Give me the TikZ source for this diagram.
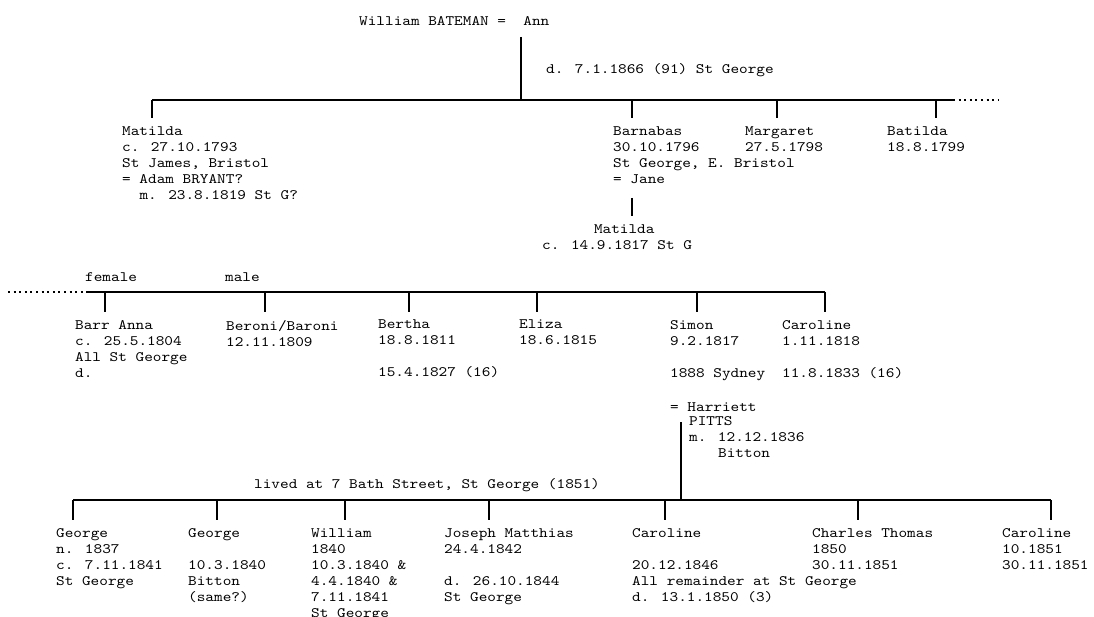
\documentclass[tikz,border=0pt]{standalone}
\usepackage{fontspec}
\newfontfamily\treefont[FakeStretch=1.143]{lmmono10-regular.otf}

\begin{document}
\begin{tikzpicture}[x=1pt,y=-1pt,line width=2.4pt,
  person/.style={anchor=north west,inner sep=0pt,align=left,
    font=\treefont\fontsize{14.4}{16}\selectfont,
    execute at begin node={\lineskiplimit=-100pt\strut}},
  note/.style={person,anchor=base west},
  dots/.style={line width=2pt,dash pattern=on 2pt off 3.6pt}]
  \useasboundingbox (0,0) rectangle (1094,617);

  \node[note] (parents) at (358,25.5) {William BATEMAN = \ Ann};
  \node[note] (anndeath) at (545,73.5) {d. 7.1.1866 (91) St George};
  \coordinate (top) at (521,37);
  \coordinate (r1m) at (521,100);
  \coordinate (r1a) at (152,100);
  \coordinate (r1b) at (632,100);
  \coordinate (r1c) at (777,100);
  \coordinate (r1d) at (936,100);
  \coordinate (r1e) at (953,100);
  \coordinate (r1x) at (998,100);
  \draw (top) -- (r1m);
  \draw (r1a) -- (r1e);
  \draw[dots] (r1e) -- (r1x);

  \node[person] (matilda) at (121,126) {Matilda\\c. 27.10.1793\\St James, Bristol\\= Adam BRYANT?\\\hspace*{17.3pt}m. 23.8.1819 St G?};
  \node[person] (barnabas) at (612,126) {Barnabas\\30.10.1796\\St George, E. Bristol\\= Jane};
  \node[person] (margaret) at (744,126) {Margaret\\27.5.1798};
  \node[person] (batilda) at (886,126) {Batilda\\18.8.1799};
  \foreach \c/\n in {r1a/matilda,r1b/barnabas,r1c/margaret,r1d/batilda}
    \draw (\c) -- ([yshift=8pt]\c |- \n.north);

  \coordinate (jane) at (632,198);
  \node[person] (matildab) at (541,224) {\hspace*{51.8pt}Matilda\\c. 14.9.1817 St G};
  \draw (jane) -- ([yshift=8pt]jane |- matildab.north);

  \node[note] (female) at (84,281.5) {female};
  \node[note] (male) at (224,281.5) {male};
  \coordinate (r2x) at (8,292);
  \coordinate (r2w) at (88,292);
  \coordinate (r2a) at (105,292);
  \coordinate (r2b) at (265,292);
  \coordinate (r2c) at (409,292);
  \coordinate (r2d) at (537,292);
  \coordinate (r2e) at (697,292);
  \coordinate (r2f) at (825,292);
  \draw[dots] (r2x) -- (r2w);
  \draw (r2w) -- (r2f);

  \node[person] (barr) at (74,319) {Barr Anna\\c. 25.5.1804\\All St George\\d.};
  \node[person] (beroni) at (225,319) {Beroni/Baroni\\12.11.1809};
  \node[person] (bertha) at (377,319) {Bertha\\18.8.1811\\ \strut\\15.4.1827 (16)};
  \node[person] (eliza) at (518,319) {Eliza\\18.6.1815};
  \node[person] (simon) at (669,319) {Simon\\9.2.1817\\ \strut\\1888 Sydney};
  \node[person] (caroline) at (781,319) {Caroline\\1.11.1818\\ \strut\\11.8.1833 (16)};
  \foreach \c/\n in {r2a/barr,r2b/beroni,r2c/bertha,r2d/eliza,r2e/simon,r2f/caroline}
    \draw (\c) -- ([yshift=7pt]\c |- \n.north);

  \node[person] (harriett) at (669,399) {= Harriett};
  \node[person] (pitts) at (688,415) {PITTS\\m. 12.12.1836\\\hspace*{29pt}Bitton};
  \coordinate (wed) at (681,422);

  \node[note] (bath) at (253,488.5) {lived at 7 Bath Street, St George (1851)};
  \coordinate (r3a) at (73,500);
  \coordinate (r3b) at (217,500);
  \coordinate (r3c) at (345,500);
  \coordinate (r3d) at (489,500);
  \coordinate (r3e) at (665,500);
  \coordinate (r3f) at (858,500);
  \coordinate (r3g) at (1051,500);
  \draw (wed) -- (wed |- r3a);
  \draw (r3a) -- (r3g);

  \node[person] (georgea) at (55,527) {George\\n. 1837\\c. 7.11.1841\\St George};
  \node[person] (georgeb) at (187,527) {George\\ \strut\\10.3.1840\\Bitton\\(same?)};
  \node[person] (william) at (310,527) {William\\1840\\10.3.1840 \&\\4.4.1840 \&\\7.11.1841\\St George};
  \node[person] (joseph) at (443,527) {Joseph Matthias\\24.4.1842\\ \strut\\d. 26.10.1844\\St George};
  \node[person] (carolineb) at (631,527) {Caroline\\ \strut\\20.12.1846\\All remainder at St George\\d. 13.1.1850 (3)};
  \node[person] (charles) at (811,527) {Charles Thomas\\1850\\30.11.1851};
  \node[person] (carolinec) at (1001,527) {Caroline\\10.1851\\30.11.1851};
  \foreach \c/\n in {r3a/georgea,r3b/georgeb,r3c/william,r3d/joseph,r3e/carolineb,r3f/charles,r3g/carolinec}
    \draw (\c) -- ([yshift=7pt]\c |- \n.north);
\end{tikzpicture}
\end{document}
